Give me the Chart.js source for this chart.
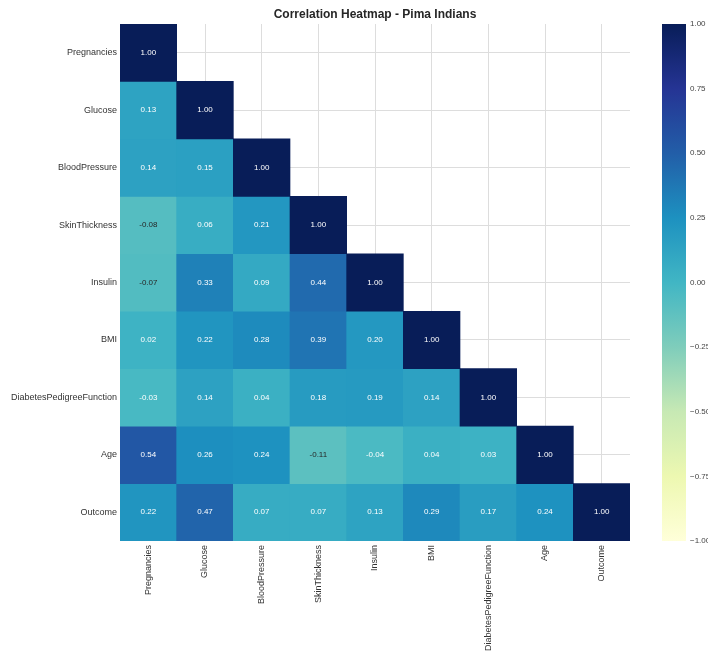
<!DOCTYPE html>
<html>
<head>
<meta charset="utf-8">
<script src="https://cdn.jsdelivr.net/npm/chart.js@4.4.1/dist/chart.umd.min.js"></script>
<style>
  html, body { margin: 0; padding: 0; background: #fff; }
  #wrap { position: relative; width: 708px; height: 655px; overflow: hidden; }
  #main { position: absolute; left: 0; top: 0; }
  #cbar { position: absolute; left: 640px; top: 0; }
</style>
</head>
<body>
<div id="wrap">
  <canvas id="main" width="708" height="655"></canvas>
  <canvas id="cbar" width="68" height="655"></canvas>
</div>
<script>
// ---- data ----
const categories = ["Pregnancies", "Glucose", "BloodPressure", "SkinThickness", "Insulin",
  "BMI", "DiabetesPedigreeFunction", "Age", "Outcome"];
const rowPregnancies   = [1.00];
const rowGlucose       = [0.13, 1.00];
const rowBloodPressure = [0.14, 0.15, 1.00];
const rowSkinThickness = [-0.08, 0.06, 0.21, 1.00];
const rowInsulin       = [-0.07, 0.33, 0.09, 0.44, 1.00];
const rowBMI           = [0.02, 0.22, 0.28, 0.39, 0.20, 1.00];
const rowDPF           = [-0.03, 0.14, 0.04, 0.18, 0.19, 0.14, 1.00];
const rowAge           = [0.54, 0.26, 0.24, -0.11, -0.04, 0.04, 0.03, 1.00];
const rowOutcome       = [0.22, 0.47, 0.07, 0.07, 0.13, 0.29, 0.17, 0.24, 1.00];
const colorbarTicks    = [-1.00, -0.75, -0.50, -0.25, 0.00, 0.25, 0.50, 0.75, 1.00];
const vmin = -1, vmax = 1;

const rows = [rowPregnancies, rowGlucose, rowBloodPressure, rowSkinThickness, rowInsulin,
  rowBMI, rowDPF, rowAge, rowOutcome];

// ---- YlGnBu colormap ----
const ylgnbu = ["#ffffd9", "#edf8b1", "#c7e9b4", "#7fcdbb", "#41b6c4",
  "#1d91c0", "#225ea8", "#253494", "#081d58"];
function hexToRgb(h) { return [1, 3, 5].map(i => parseInt(h.substr(i, 2), 16)); }
const stopsRgb = ylgnbu.map(hexToRgb);
function cmapRgb(v) {
  let t = (v - vmin) / (vmax - vmin);
  t = Math.max(0, Math.min(1, t));
  const p = t * (stopsRgb.length - 1);
  const i = Math.min(Math.floor(p), stopsRgb.length - 2);
  const f = p - i;
  return stopsRgb[i].map((c, k) => Math.round(c + (stopsRgb[i + 1][k] - c) * f));
}
function cmap(v) { const c = cmapRgb(v); return `rgb(${c[0]},${c[1]},${c[2]})`; }
function textColorFor(v) {
  const lin = cmapRgb(v).map(c => { c /= 255; return c <= 0.03928 ? c / 12.92 : Math.pow((c + 0.055) / 1.055, 2.4); });
  const lum = 0.2126 * lin[0] + 0.7152 * lin[1] + 0.0722 * lin[2];
  return lum > 0.408 ? "#262626" : "#ffffff";
}

const FONT = "'Liberation Sans', Arial, Helvetica, sans-serif";

const datasets = rows.map((row, r) => ({
  label: categories[r],
  data: categories.map((_, c) => c < row.length ? [r, r + 1] : null),
  values: categories.map((_, c) => c < row.length ? row[c] : null),
  backgroundColor: categories.map((_, c) => c < row.length ? cmap(row[c]) : "rgba(0,0,0,0)"),
  borderWidth: 0,
  grouped: false,
  barPercentage: 1,
  categoryPercentage: 1
}));

const annotate = {
  id: "annotate",
  afterDatasetsDraw(chart) {
    const ctx = chart.ctx;
    ctx.save();
    ctx.font = "8px " + FONT;
    ctx.textAlign = "center";
    ctx.textBaseline = "middle";
    chart.data.datasets.forEach((ds, di) => {
      const meta = chart.getDatasetMeta(di);
      meta.data.forEach((el, i) => {
        const v = ds.values[i];
        if (v === null || v === undefined) return;
        ctx.fillStyle = textColorFor(v);
        ctx.fillText(v.toFixed(2), el.x, (el.y + el.base) / 2);
      });
    });
    ctx.restore();
  }
};

new Chart(document.getElementById("main"), {
  type: "bar",
  data: { labels: categories, datasets },
  plugins: [annotate],
  options: {
    responsive: false,
    animation: false,
    events: [],
    layout: { padding: { left: 0, right: 78, top: 0, bottom: 0 } },
    plugins: {
      legend: { display: false },
      tooltip: { enabled: false },
      title: {
        display: true,
        text: "Correlation Heatmap - Pima Indians",
        fullSize: false,
        color: "#262626",
        font: { family: FONT, size: 12, weight: "bold" },
        padding: { top: 7, bottom: 2.6 }
      }
    },
    scales: {
      x: {
        type: "category",
        offset: true,
        grid: { offset: false, color: "#dddddd", lineWidth: 1, drawTicks: false },
        border: { display: false },
        ticks: {
          maxRotation: 90, minRotation: 90, padding: 4, autoSkip: false,
          color: "#333333", font: { family: FONT, size: 9 }
        },
        afterFit(scale) { scale.height = 114; }
      },
      y: {
        type: "linear",
        min: 0, max: categories.length,
        reverse: true,
        grid: { color: "#dddddd", lineWidth: 1, drawTicks: false },
        border: { display: false },
        afterBuildTicks(scale) { scale.ticks = categories.map((_, i) => ({ value: i + 0.5 })); },
        ticks: {
          padding: 3, autoSkip: false,
          color: "#333333", font: { family: FONT, size: 9 },
          callback: (v) => categories[Math.floor(v)]
        },
        afterFit(scale) { scale.width = 120; }
      }
    }
  }
});

// ---- colorbar ----
new Chart(document.getElementById("cbar"), {
  type: "bar",
  data: {
    labels: [""],
    datasets: [{
      data: [[vmin, vmax]],
      borderWidth: 0,
      barPercentage: 1,
      categoryPercentage: 1,
      backgroundColor(ctx) {
        const area = ctx.chart.chartArea;
        if (!area) return "#41b6c4";
        const g = ctx.chart.ctx.createLinearGradient(0, area.bottom, 0, area.top);
        ylgnbu.forEach((c, i) => g.addColorStop(i / (ylgnbu.length - 1), c));
        return g;
      }
    }]
  },
  options: {
    responsive: false,
    animation: false,
    events: [],
    layout: { padding: { left: 22, right: 0, top: 24, bottom: 114 } },
    plugins: { legend: { display: false }, tooltip: { enabled: false } },
    scales: {
      x: { display: false, offset: true },
      y: {
        position: "right",
        min: vmin, max: vmax,
        grid: { display: false, drawTicks: false },
        border: { display: false },
        afterBuildTicks(scale) { scale.ticks = colorbarTicks.map(v => ({ value: v })); },
        ticks: {
          padding: 4,
          color: "#444444", font: { family: FONT, size: 8 },
          callback: (v) => Number(v).toFixed(2).replace("-", "\u2212")
        },
        afterFit(scale) { scale.width = 22; }
      }
    }
  }
});
</script>
</body>
</html>
